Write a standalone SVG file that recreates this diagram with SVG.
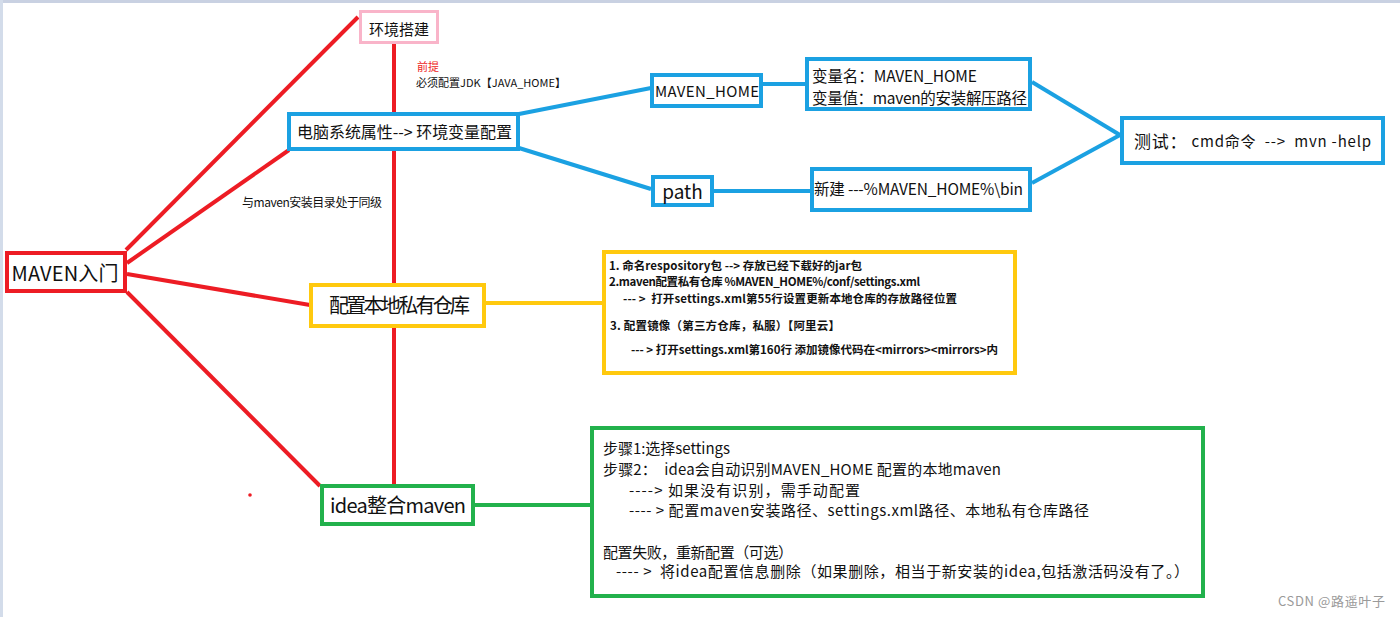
<svg xmlns="http://www.w3.org/2000/svg" width="1400" height="617" viewBox="0 0 1400 617">
<style>
text{font-family:"Noto Sans CJK SC","Liberation Sans",sans-serif;fill:#111;dominant-baseline:central;white-space:pre}
.r{stroke:#ED1C24;stroke-width:4;fill:none}
.b{stroke:#1BA1E2;stroke-width:4;fill:none}
.y{stroke:#FFC90E;stroke-width:4;fill:none}
.g{stroke:#22B14C;stroke-width:4;fill:none}
.box{fill:#fff}
.small{font-size:11px}
.note{font-size:11.5px;font-weight:bold}
.gn{font-size:15px}
</style>
<rect x="0" y="0" width="1400" height="617" fill="#fff"/>
<rect x="0" y="0" width="1400" height="3" fill="#c9d1e2"/>
<rect x="0" y="0" width="3" height="617" fill="#d3dcea"/>
<g id="connectors">
<line class="r" x1="358" y1="17" x2="126" y2="250"/>
<line class="r" x1="289" y1="150" x2="127" y2="263"/>
<line class="r" x1="127" y1="274" x2="310" y2="305"/>
<line class="r" x1="127" y1="292" x2="320" y2="486"/>
<line class="r" x1="394" y1="44" x2="394" y2="112"/>
<line class="r" x1="394" y1="151" x2="394" y2="283"/>
<line class="r" x1="394" y1="328" x2="394" y2="484"/>
<line class="b" x1="519" y1="114" x2="651" y2="88"/>
<line class="b" x1="519" y1="148" x2="651" y2="189"/>
<line class="b" x1="763" y1="84" x2="806" y2="84"/>
<line class="b" x1="714" y1="191" x2="810" y2="191"/>
<line class="b" x1="1032" y1="82" x2="1120" y2="135"/>
<line class="b" x1="1032" y1="183" x2="1120" y2="135"/>
<line class="y" x1="486" y1="303" x2="602" y2="303"/>
<line class="g" x1="475" y1="505" x2="590" y2="505"/>
</g>
<circle cx="250" cy="495" r="1.8" fill="#ED1C24"/>
<g id="label-premise">
<text x="417" y="66" class="small" style="fill:#ED1C24">前提</text>
<text x="416" y="82" class="small" textLength="150" lengthAdjust="spacing">必须配置JDK【JAVA_HOME】</text>
</g>
<g id="label-same-level">
<text x="242" y="201" style="font-size:12px" textLength="140" lengthAdjust="spacing">与maven安装目录处于同级</text>
</g>
<g id="node-env">
<rect x="360.5" y="11.5" width="77" height="31" fill="#fff" stroke="#F9B4C9" stroke-width="3"/>
<text x="399" y="28" text-anchor="middle" style="font-size:15px">环境搭建</text>
</g>
<g id="node-sys">
<rect class="b box" x="289" y="114" width="229" height="35"/>
<text x="297" y="131" style="font-size:16px" textLength="215" lengthAdjust="spacing">电脑系统属性--&gt; 环境变量配置</text>
</g>
<g id="node-maven-home">
<rect class="b box" x="652" y="75" width="109" height="31"/>
<text x="655" y="90" style="font-size:15px" textLength="104" lengthAdjust="spacing">MAVEN_HOME</text>
</g>
<g id="node-var">
<rect class="b box" x="807" y="59" width="223" height="50"/>
<text x="812" y="75" style="font-size:15.5px" textLength="165" lengthAdjust="spacing">变量名：MAVEN_HOME</text>
<text x="812" y="97" style="font-size:15.5px" textLength="215" lengthAdjust="spacing">变量值：maven的安装解压路径</text>
</g>
<g id="node-test">
<rect class="b box" x="1122" y="118" width="261" height="45"/>
<text x="1134" y="140" style="font-size:15px" textLength="237" lengthAdjust="spacing"><tspan style="font-size:17px">测试：</tspan> cmd命令  --&gt;  mvn -help</text>
</g>
<g id="node-path">
<rect class="b box" x="653" y="177" width="59" height="28"/>
<text x="682.5" y="190" text-anchor="middle" style="font-size:19px">path</text>
</g>
<g id="node-new">
<rect class="b box" x="812" y="169" width="218" height="41"/>
<text x="814" y="188" style="font-size:15.5px" textLength="209" lengthAdjust="spacing">新建 ---%MAVEN_HOME%\bin</text>
</g>
<g id="node-root">
<rect class="r box" x="7" y="253" width="118" height="38"/>
<text x="11.5" y="272" style="font-size:20px" textLength="107" lengthAdjust="spacing">MAVEN入门</text>
</g>
<g id="node-repo">
<rect class="y box" x="311" y="285" width="173" height="41"/>
<text x="329" y="304" style="font-size:20px" textLength="141" lengthAdjust="spacing">配置本地私有仓库</text>
</g>
<g id="node-repo-notes">
<rect class="y box" x="604" y="252" width="411" height="121"/>
<text x="609" y="265" class="note" textLength="253" lengthAdjust="spacing">1. 命名respository包 --&gt; 存放已经下载好的jar包</text>
<text x="609" y="281" class="note" textLength="311" lengthAdjust="spacing">2.maven配置私有仓库 %MAVEN_HOME%/conf/settings.xml</text>
<text x="623" y="298" class="note" textLength="334" lengthAdjust="spacing">--- &gt;  打开settings.xml第55行设置更新本地仓库的存放路径位置</text>
<text x="610" y="325" class="note" textLength="230" lengthAdjust="spacing">3. 配置镜像（第三方仓库，私服）【阿里云】</text>
<text x="631" y="349" class="note" textLength="367" lengthAdjust="spacing">--- &gt; 打开settings.xml第160行 添加镜像代码在&lt;mirrors&gt;&lt;mirrors&gt;内</text>
</g>
<g id="node-idea">
<rect class="g box" x="322" y="486" width="151" height="38"/>
<text x="330" y="504" style="font-size:20px" textLength="136" lengthAdjust="spacing">idea整合maven</text>
</g>
<g id="node-idea-notes">
<rect class="g box" x="592" y="428" width="611" height="168"/>
<text x="603" y="447" class="gn" textLength="127" lengthAdjust="spacing">步骤1:选择settings</text>
<text x="603" y="468" class="gn" textLength="398" lengthAdjust="spacing">步骤2：  idea会自动识别MAVEN_HOME 配置的本地maven</text>
<text x="629" y="489" class="gn" textLength="231" lengthAdjust="spacing">----&gt; 如果没有识别，需手动配置</text>
<text x="629" y="509" class="gn" textLength="460" lengthAdjust="spacing">---- &gt; 配置maven安装路径、settings.xml路径、本地私有仓库路径</text>
<text x="603" y="551" class="gn" textLength="190" lengthAdjust="spacing">配置失败，重新配置（可选）</text>
<text x="616" y="570" class="gn" textLength="573" lengthAdjust="spacing">---- &gt;  将idea配置信息删除（如果删除，相当于新安装的idea,包括激活码没有了。）</text>
</g>
<text x="1278" y="600" style="font-size:13px;fill:#9a9a9a" textLength="107" lengthAdjust="spacing">CSDN @路遥叶子</text>
</svg>
